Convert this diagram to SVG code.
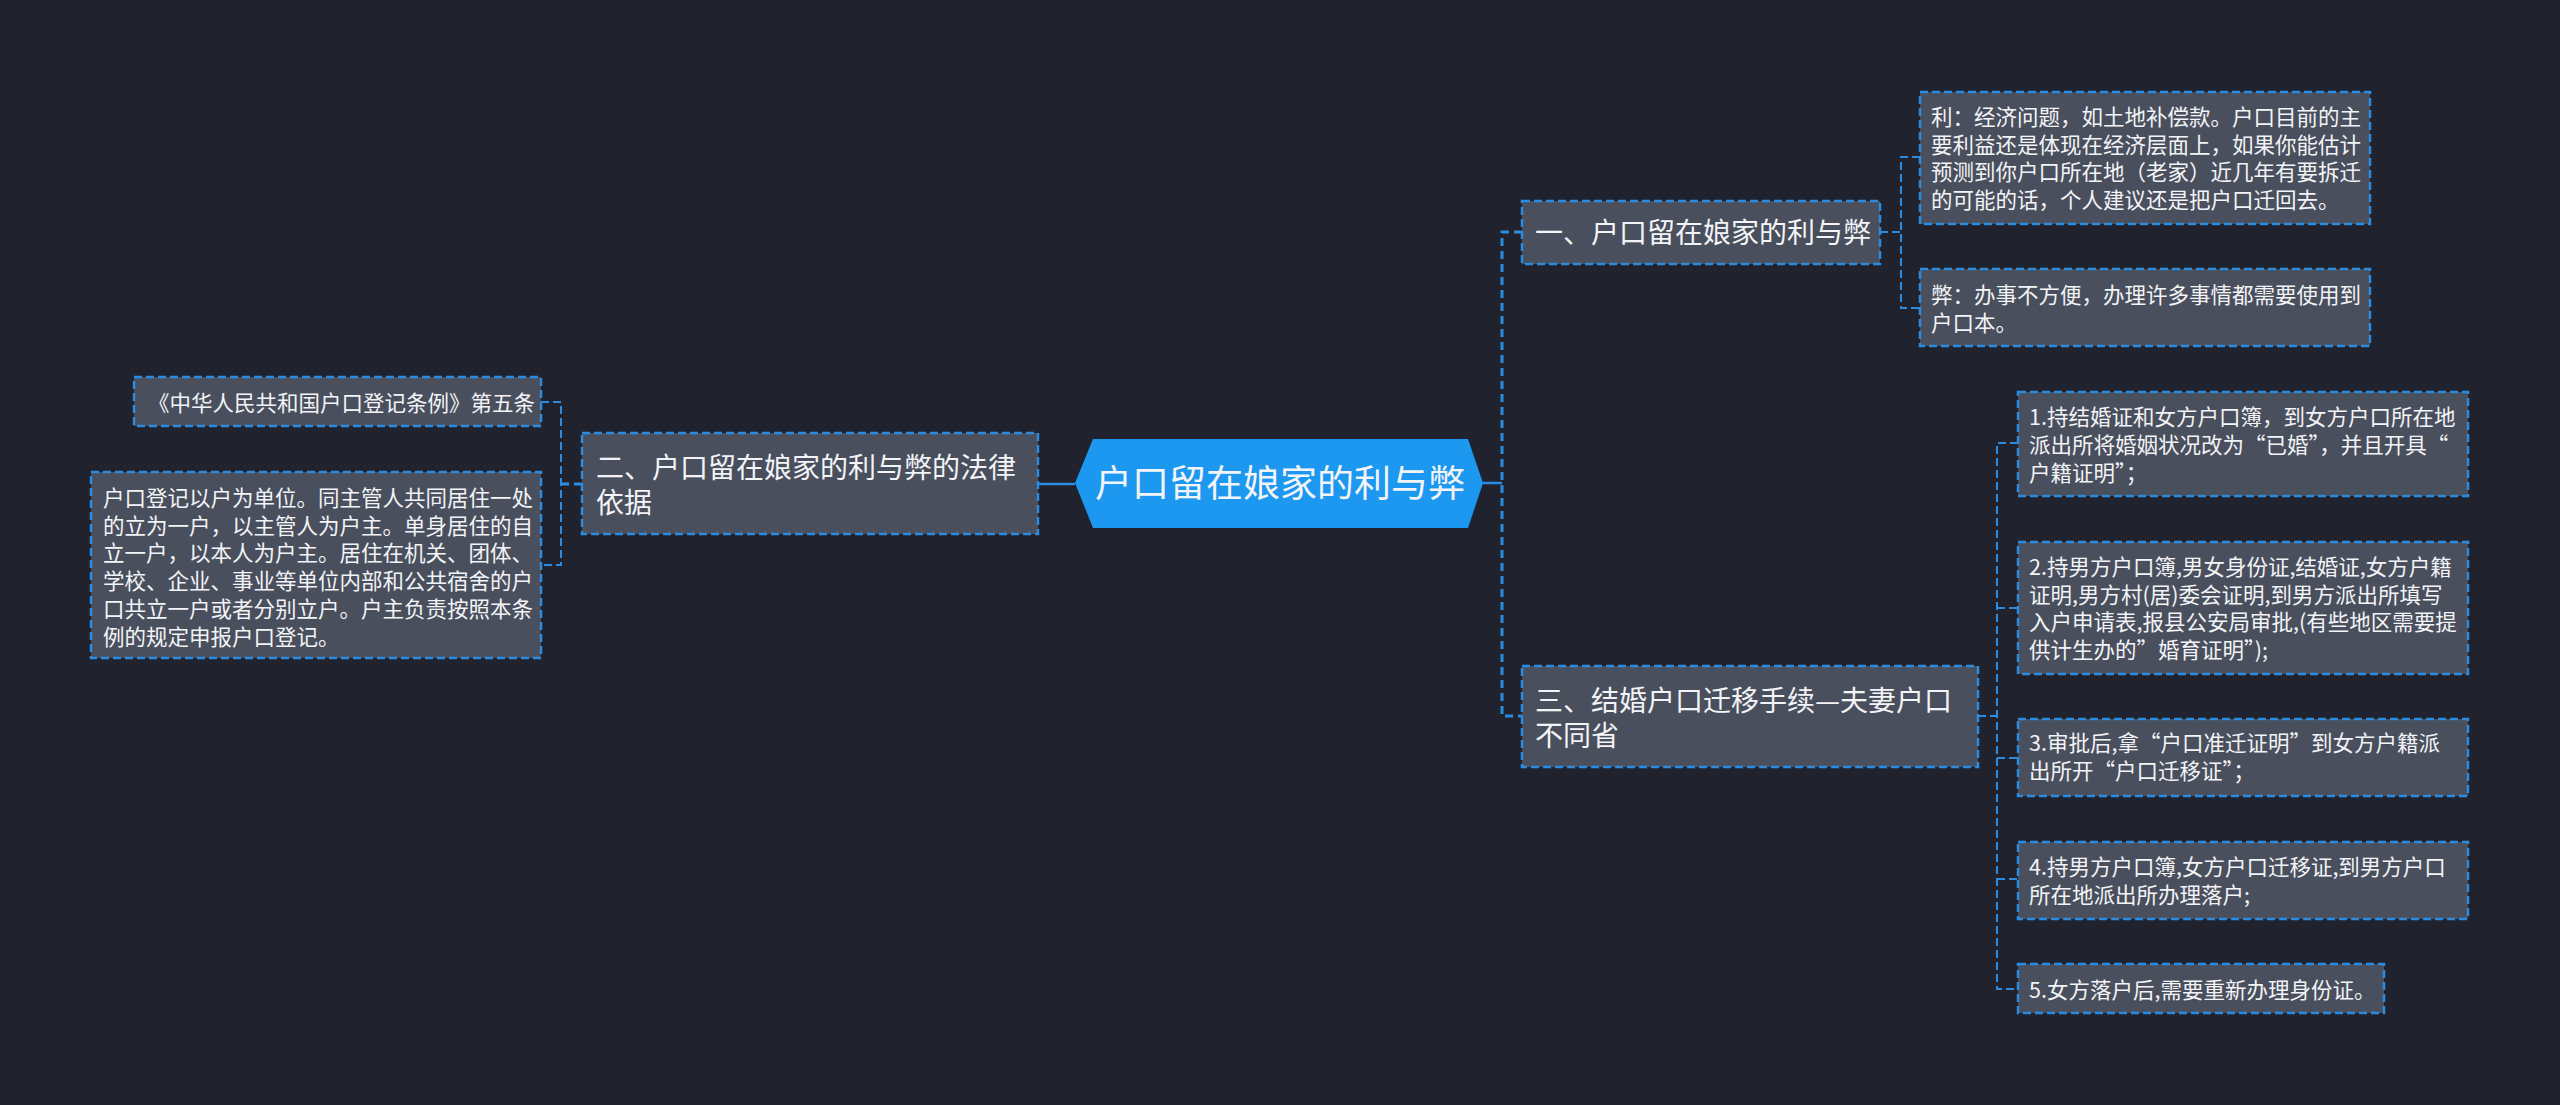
<svg xmlns="http://www.w3.org/2000/svg" width="2560" height="1105" viewBox="0 0 2560 1105">
<style>
.bg{fill:#20232e}
.box{fill:#4a4f5d;stroke:#2b8be0;stroke-width:2.5;stroke-dasharray:8 4}
.root{fill:#1d98f0}
.t{font-family:"Noto Sans CJK SC","Noto Sans",sans-serif;fill:#f2f4f7}
.s{font-size:21.5px}
.m{font-size:28px}
.l{font-size:37px}
.c{fill:none;stroke:#2b8be0;stroke-width:2;stroke-dasharray:8 4}
.c1{fill:none;stroke:#2b8be0;stroke-width:3;stroke-dasharray:8 5}
.cs{fill:none;stroke:#2b8be0;stroke-width:2.5}
</style>
<rect class="bg" x="0" y="0" width="2560" height="1105"/>
<g id="connectors">
<path class="cs" d="M1038 484 H1075"/>
<path class="cs" d="M1483 483 H1502"/>
<path class="c1" d="M1522 232 H1502 V716 H1522"/>
<path class="c1" d="M582 484 H561"/>
<path class="c" d="M541 402 H561 V565 H541"/>
<path class="c" d="M1880 232 H1901"/>
<path class="c" d="M1920 157 H1901 V308 H1920"/>
<path class="c" d="M1978 716 H1997"/>
<path class="c" d="M2018 443 H1997 V989 H2018"/>
<path class="c" d="M1997 608 H2018"/>
<path class="c" d="M1997 758 H2018"/>
<path class="c" d="M1997 879 H2018"/>
</g>
<g id="root">
<polygon class="root" points="1075,483 1093,439 1468,439 1483,483 1468,528 1093,528"/>
<text class="t l" x="1280" y="497" text-anchor="middle">户口留在娘家的利与弊</text>
</g>
<g id="n1">
<rect class="box" x="1522" y="201" width="358" height="63"/>
<text class="t m" x="1535" y="243">一、户口留在娘家的利与弊</text>
</g>
<g id="n1a">
<rect class="box" x="1920" y="92" width="450" height="132"/>
<text class="t s" x="1931" y="125">利：经济问题，如土地补偿款。户口目前的主<tspan x="1931" y="153">要利益还是体现在经济层面上，如果你能估计</tspan><tspan x="1931" y="180">预测到你户口所在地（老家）近几年有要拆迁</tspan><tspan x="1931" y="208">的可能的话，个人建议还是把户口迁回去。</tspan></text>
</g>
<g id="n1b">
<rect class="box" x="1920" y="269" width="450" height="77"/>
<text class="t s" x="1931" y="303">弊：办事不方便，办理许多事情都需要使用到<tspan x="1931" y="331">户口本。</tspan></text>
</g>
<g id="n2">
<rect class="box" x="582" y="433" width="456" height="101"/>
<text class="t m" x="596" y="478">二、户口留在娘家的利与弊的法律<tspan x="596" y="513">依据</tspan></text>
</g>
<g id="n2a">
<rect class="box" x="134" y="377" width="407" height="49"/>
<text class="t s" x="148" y="411">《中华人民共和国户口登记条例》第五条</text>
</g>
<g id="n2b">
<rect class="box" x="91" y="472" width="450" height="186"/>
<text class="t s" x="103" y="506">户口登记以户为单位。同主管人共同居住一处<tspan x="103" y="534">的立为一户，以主管人为户主。单身居住的自</tspan><tspan x="103" y="561">立一户，以本人为户主。居住在机关、团体、</tspan><tspan x="103" y="589">学校、企业、事业等单位内部和公共宿舍的户</tspan><tspan x="103" y="617">口共立一户或者分别立户。户主负责按照本条</tspan><tspan x="103" y="645">例的规定申报户口登记。</tspan></text>
</g>
<g id="n3">
<rect class="box" x="1522" y="666" width="456" height="101"/>
<text class="t m" x="1535" y="711">三、结婚户口迁移手续—夫妻户口<tspan x="1535" y="746">不同省</tspan></text>
</g>
<g id="n3a">
<rect class="box" x="2018" y="392" width="450" height="104"/>
<text class="t s" x="2029" y="425">1.持结婚证和女方户口簿，到女方户口所在地<tspan x="2029" y="453">派出所将婚姻状况改为“已婚”，并且开具“</tspan><tspan x="2029" y="481">户籍证明”；</tspan></text>
</g>
<g id="n3b">
<rect class="box" x="2018" y="542" width="450" height="132"/>
<text class="t s" x="2029" y="575">2.持男方户口簿,男女身份证,结婚证,女方户籍<tspan x="2029" y="603">证明,男方村(居)委会证明,到男方派出所填写</tspan><tspan x="2029" y="630">入户申请表,报县公安局审批,(有些地区需要提</tspan><tspan x="2029" y="658">供计生办的”婚育证明”);</tspan></text>
</g>
<g id="n3c">
<rect class="box" x="2018" y="719" width="450" height="77"/>
<text class="t s" x="2029" y="751">3.审批后,拿“户口准迁证明”到女方户籍派<tspan x="2029" y="779">出所开“户口迁移证”；</tspan></text>
</g>
<g id="n3d">
<rect class="box" x="2018" y="842" width="450" height="77"/>
<text class="t s" x="2029" y="875">4.持男方户口簿,女方户口迁移证,到男方户口<tspan x="2029" y="903">所在地派出所办理落户;</tspan></text>
</g>
<g id="n3e">
<rect class="box" x="2018" y="964" width="366" height="49"/>
<text class="t s" x="2029" y="998">5.女方落户后,需要重新办理身份证。</text>
</g>
</svg>
